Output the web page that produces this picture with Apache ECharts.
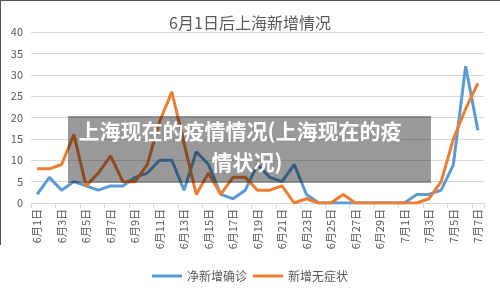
<!DOCTYPE html>
<html>
<head>
<meta charset="utf-8">
<script src="https://cdn.jsdelivr.net/npm/echarts@6/dist/echarts.min.js"></script>
<style>
  html, body { margin: 0; padding: 0; background: #fff; }
  #chart { width: 500px; height: 300px; }
</style>
</head>
<body>
<div id="chart"></div>
<script>
// 日期 6月1日 ~ 7月7日
const dates = [
  '6月1日', '6月2日', '6月3日', '6月4日', '6月5日', '6月6日', '6月7日', '6月8日', '6月9日', '6月10日',
  '6月11日', '6月12日', '6月13日', '6月14日', '6月15日', '6月16日', '6月17日', '6月18日', '6月19日', '6月20日',
  '6月21日', '6月22日', '6月23日', '6月24日', '6月25日', '6月26日', '6月27日', '6月28日', '6月29日', '6月30日',
  '7月1日', '7月2日', '7月3日', '7月4日', '7月5日', '7月6日', '7月7日'
];

// 净新增确诊
const confirmed = [
  2, 6, 3, 5, 4, 3, 4, 4, 6, 7,
  10, 10, 3, 12, 9, 2, 1, 3, 9, 6,
  5, 9, 2, 0, 0, 0, 0, 0, 0, 0,
  0, 2, 2, 3, 9, 32, 17
];

// 新增无症状
const asymptomatic = [
  8, 8, 9, 16, 4, 7, 11, 5, 5, 9,
  19, 26, 14, 2, 7, 2, 6, 6, 3, 3,
  4, 0, 1, 0, 0, 2, 0, 0, 0, 0,
  0, 0, 1, 5, 15, 22, 28
];

const yTicks = [0, 5, 10, 15, 20, 25, 30, 35, 40];

const chart = echarts.init(document.getElementById('chart'));

const option = {
  animation: false,
  title: {
    text: '6月1日后上海新增情况',
    left: 'center',
    top: 10,
    textStyle: {
      fontFamily: 'Noto Sans CJK SC',
      fontSize: 16,
      fontWeight: 'normal',
      color: '#595959'
    }
  },
  legend: {
    bottom: 13,
    left: 'center',
    icon: 'rect',
    itemWidth: 30,
    itemHeight: 3,
    itemGap: 6,
    textStyle: {
      fontFamily: 'Noto Sans CJK SC',
      fontSize: 12,
      color: '#595959'
    },
    data: ['净新增确诊', '新增无症状']
  },
  grid: {
    left: 31,
    right: 16,
    top: 32,
    bottom: 97
  },
  xAxis: {
    type: 'category',
    data: dates,
    boundaryGap: true,
    axisLine: { lineStyle: { color: '#d9d9d9', width: 1 } },
    axisTick: { show: true, interval: 1, length: 5, lineStyle: { color: '#d9d9d9' } },
    axisLabel: {
      interval: 1,
      rotate: 90,
      margin: 6,
      fontFamily: 'Noto Sans CJK SC',
      fontSize: 11,
      color: '#595959'
    }
  },
  yAxis: {
    type: 'value',
    min: yTicks[0],
    max: yTicks[yTicks.length - 1],
    interval: 5,
    axisLine: { show: false },
    axisTick: { show: false },
    axisLabel: {
      margin: 8,
      fontFamily: 'Noto Sans CJK SC',
      fontSize: 11,
      color: '#595959'
    },
    splitLine: { lineStyle: { color: '#d9d9d9', width: 1 } }
  },
  series: [
    {
      name: '净新增确诊',
      type: 'line',
      data: confirmed,
      symbol: 'none',
      lineStyle: { color: '#5B9BD5', width: 3 },
      itemStyle: { color: '#5B9BD5' }
    },
    {
      name: '新增无症状',
      type: 'line',
      data: asymptomatic,
      symbol: 'none',
      lineStyle: { color: '#ED7D31', width: 3 },
      itemStyle: { color: '#ED7D31' }
    }
  ],
  graphic: [
    // 截图边框
    {
      type: 'line',
      shape: { x1: 0, y1: 0.5, x2: 500, y2: 0.5 },
      style: { stroke: '#555', lineWidth: 1 }
    },
    {
      type: 'line',
      shape: { x1: 0.5, y1: 0, x2: 0.5, y2: 245 },
      style: { stroke: '#555', lineWidth: 1 }
    },
    // 标题遮罩
    {
      type: 'rect',
      left: 68,
      top: 116,
      z: 100,
      shape: { width: 363, height: 67 },
      style: { fill: 'rgba(0,0,0,0.4)' }
    },
    {
      type: 'text',
      x: 240,
      y: 131,
      z: 101,
      style: {
        text: '上海现在的疫情情况(上海现在的疫',
        fill: '#fff',
        font: 'bold 21px "Noto Sans CJK SC"',
        align: 'center',
        verticalAlign: 'middle'
      }
    },
    {
      type: 'text',
      x: 247,
      y: 162,
      z: 101,
      style: {
        text: '情状况)',
        fill: '#fff',
        font: 'bold 21px "Noto Sans CJK SC"',
        align: 'center',
        verticalAlign: 'middle'
      }
    }
  ]
};

chart.setOption(option);
</script>
</body>
</html>
